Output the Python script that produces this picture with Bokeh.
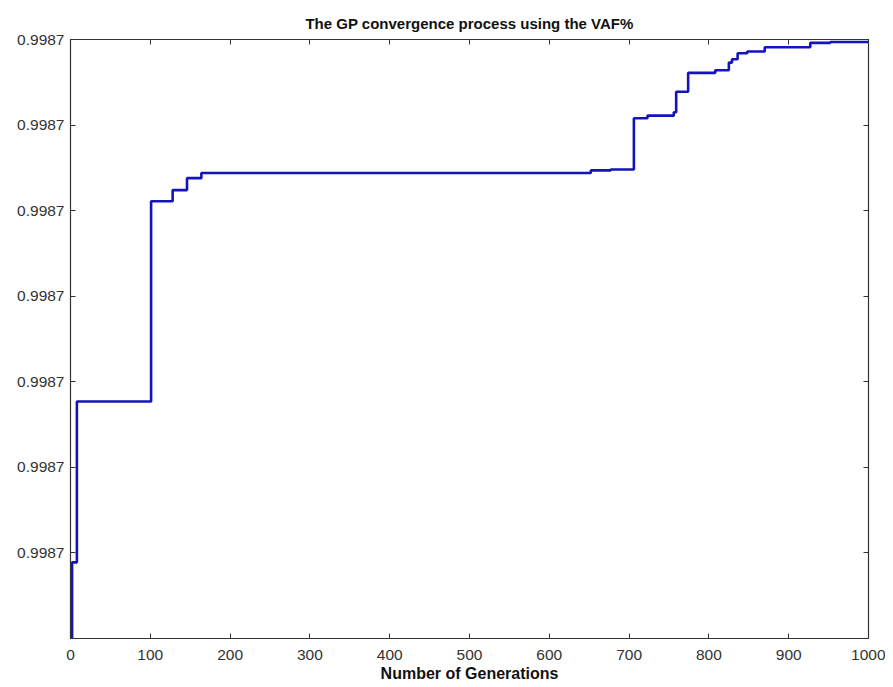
from bokeh.plotting import figure
from bokeh.models import Range1d, FixedTicker, LinearAxis, PrintfTickFormatter
from bokeh.embed import file_html
from bokeh.resources import INLINE

# Data: generation number and best VAF%
generations = [1, 2, 8, 101, 128, 146, 164, 652, 677, 706, 723, 756, 759, 774,
               808, 825, 829, 836, 848, 870, 927, 952, 1000]
vaf = [0.9987000, 0.99870089, 0.99870277, 0.99870511, 0.99870524, 0.99870538,
       0.99870544, 0.99870547, 0.99870548, 0.99870608, 0.99870611, 0.99870615,
       0.99870639, 0.99870661, 0.99870664, 0.99870673, 0.99870677, 0.99870684,
       0.99870686, 0.99870691, 0.99870696, 0.99870697, 0.99870698]
x_ticks = [0, 100, 200, 300, 400, 500, 600, 700, 800, 900, 1000]
y_ticks = [0.998701, 0.998702, 0.998703, 0.998704, 0.998705, 0.998706, 0.998707]

p = figure(width=885, height=687, output_backend="svg", toolbar_location=None,
           x_range=Range1d(0, 1000), y_range=Range1d(0.9987, 0.998707),
           title="The GP convergence process using the VAF%",
           min_border_left=70, min_border_right=17, min_border_top=39, min_border_bottom=49)

p.step(generations, vaf, mode="after", line_color="#1414bc", line_width=2.6)

p.title.align = "center"
p.title.text_font = "Liberation Sans"
p.title.text_font_size = "15px"
p.title.text_font_style = "bold"
p.title.text_color = "#111111"
p.title.offset = 0
p.title.standoff = 16

p.grid.visible = False
p.outline_line_color = "#333333"
p.outline_line_width = 1.2
p.background_fill_color = "white"
p.border_fill_color = "white"

for ax in (p.xaxis[0], p.yaxis[0]):
    ax.major_tick_in = 5
    ax.major_tick_out = 0
    ax.minor_tick_line_color = None
    ax.axis_line_color = "#333333"
    ax.major_tick_line_color = "#333333"
    ax.major_label_text_font = "Liberation Sans"
    ax.major_label_text_font_size = "15.5px"
    ax.major_label_text_color = "#333333"

p.xaxis[0].ticker = FixedTicker(ticks=x_ticks)
p.yaxis[0].ticker = FixedTicker(ticks=y_ticks)
p.yaxis[0].formatter = PrintfTickFormatter(format="%.4f")
p.xaxis[0].major_label_standoff = 11
p.yaxis[0].major_label_standoff = 6

p.xaxis[0].axis_label = "Number of Generations"
p.xaxis[0].axis_label_text_font = "Liberation Sans"
p.xaxis[0].axis_label_text_font_size = "16px"
p.xaxis[0].axis_label_text_font_style = "bold"
p.xaxis[0].axis_label_text_color = "#111111"
p.xaxis[0].axis_label_standoff = 2

top = LinearAxis(ticker=FixedTicker(ticks=x_ticks), major_label_text_font_size="1px",
                 major_label_text_color=None,
                 major_tick_in=5, major_tick_out=0, minor_tick_line_color=None,
                 axis_line_color="#333333", major_tick_line_color="#333333",
                 major_label_standoff=0)
right = LinearAxis(ticker=FixedTicker(ticks=y_ticks), major_label_text_font_size="1px",
                   major_label_text_color=None,
                   major_tick_in=5, major_tick_out=0, minor_tick_line_color=None,
                   axis_line_color="#333333", major_tick_line_color="#333333",
                   major_label_standoff=0)
p.add_layout(top, "above")
p.add_layout(right, "right")

open("out.html", "w").write(file_html(p, INLINE))
